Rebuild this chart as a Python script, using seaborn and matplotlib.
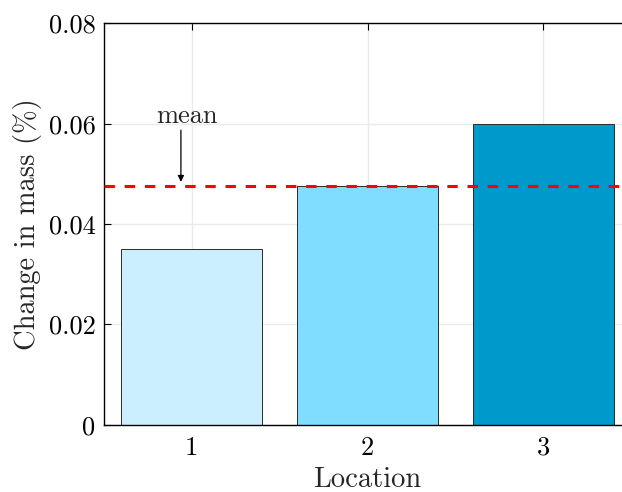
import matplotlib
matplotlib.use("Agg")
import matplotlib.pyplot as plt
import seaborn as sns
import pandas as pd
import numpy as np

locations = [1, 2, 3]
change_in_mass = [0.035, 0.0475, 0.060]
bar_colors = ["#CCEFFF", "#80DDFF", "#0099CC"]
y_ticks = [0, 0.02, 0.04, 0.06, 0.08]
y_tick_labels = ["0", "0.02", "0.04", "0.06", "0.08"]
mean_value = float(np.mean(change_in_mass))

sns.set_style("white")
plt.rcParams["font.family"] = ["cmr10", "DejaVu Serif"]
plt.rcParams["axes.unicode_minus"] = False
plt.rcParams["mathtext.fontset"] = "cm"

fig = plt.figure(figsize=(6.22, 4.92), dpi=100)
ax = fig.add_axes([103.9 / 622, 67.3 / 492, 527.5 / 622, 401.4 / 492])

df = pd.DataFrame({"Location": locations, "Change": change_in_mass})
sns.barplot(data=df, x="Location", y="Change", hue="Location",
            palette=bar_colors, native_scale=True, width=0.8, saturation=1,
            edgecolor="#2a2a2a", linewidth=0.7, legend=False, ax=ax, zorder=2)

ax.set_xlim(0.5, 3.5)
ax.set_ylim(0, 0.08)
ax.set_xticks(locations)
ax.set_xticklabels([str(v) for v in locations])
ax.set_yticks(y_ticks)
ax.set_yticklabels(y_tick_labels)

ax.grid(True, color="#EBEBEB", linewidth=1.0, zorder=0)
ax.set_axisbelow(True)

ax.axhline(mean_value, color="#FF0000", linewidth=2.2, dashes=(3.4, 3.2), zorder=3)
ax.annotate("", xy=(0.938, 0.0484), xytext=(0.938, 0.0587),
            arrowprops=dict(arrowstyle="-|>", color="black", lw=0.9,
                            mutation_scale=9, shrinkA=0, shrinkB=0))
ax.text(0.97, 0.0602, "mean", ha="center", va="baseline", fontsize=19)

for s in ["top", "left", "bottom"]:
    ax.spines[s].set_visible(True)
    ax.spines[s].set_color("black")
    ax.spines[s].set_linewidth(1.0)
ax.spines["right"].set_visible(False)

ax.tick_params(axis="both", direction="in", length=5, width=0.8,
               labelsize=19, colors="black")
ax.tick_params(axis="x", top=True, bottom=True, pad=8)
ax.tick_params(axis="y", left=True, right=False, pad=6)

ax.set_xlabel("Location", fontsize=20.5, labelpad=5)
ax.set_ylabel("Change in mass (%)", fontsize=20.5, labelpad=5)

fig.savefig("out.png", dpi=100)
